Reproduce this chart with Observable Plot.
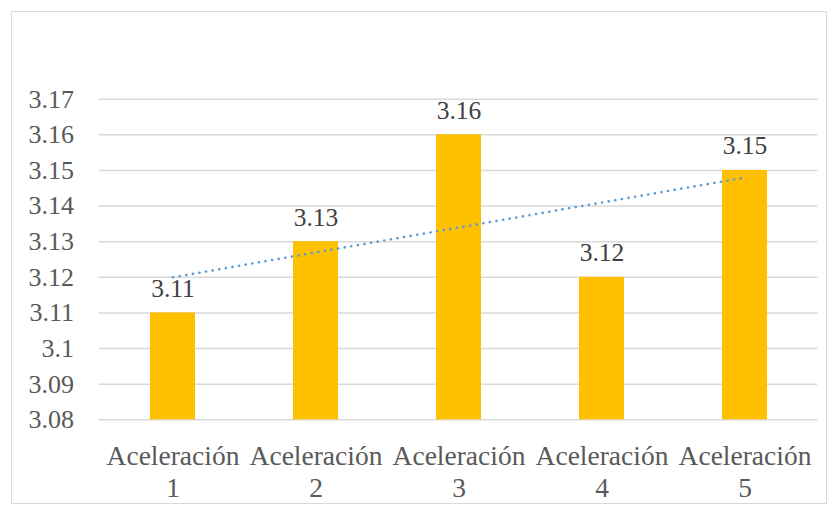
<!DOCTYPE html>
<html>
<head>
<meta charset="utf-8">
<script src="https://cdn.jsdelivr.net/npm/d3@7"></script>
<script src="https://cdn.jsdelivr.net/npm/@observablehq/plot@0.6"></script>
<style>
  html, body { margin: 0; padding: 0; background: #fff; }
  #wrap { position: relative; width: 830px; height: 508px; }
  #border {
    position: absolute; left: 11px; top: 11px; width: 816px; height: 493px;
    border: 1.5px solid #d9d9d9; box-sizing: border-box; pointer-events: none;
  }
  #chart { position: absolute; left: 0; top: 0; }
</style>
</head>
<body>
<div id="wrap">
  <div id="chart"></div>
  <div id="border"></div>
</div>
<script>
// Categories and measured values
const categories = ["Aceleración 1", "Aceleración 2", "Aceleración 3", "Aceleración 4", "Aceleración 5"];
const values = [3.11, 3.13, 3.16, 3.12, 3.15];

// Value axis range and ticks
const yMin = 3.08;
const yMax = 3.17;
const yTicks = [3.08, 3.09, 3.10, 3.11, 3.12, 3.13, 3.14, 3.15, 3.16, 3.17];

const data = categories.map((c, i) => ({category: c, value: values[i]}));

// Linear trend (least squares over category index 1..n)
const xs = values.map((_, i) => i + 1);
const mx = d3.mean(xs), my = d3.mean(values);
const slope = d3.sum(xs, (x, i) => (x - mx) * (values[i] - my)) / d3.sum(xs, x => (x - mx) ** 2);
const intercept = my - slope * mx;
const trend = [0, categories.length - 1].map(i => ({category: categories[i], value: intercept + slope * (i + 1)}));

const font = "Liberation Serif";

const chart = Plot.plot({
  width: 830,
  height: 508,
  marginLeft: 98.6,
  marginRight: 12.6,
  marginTop: 98.7,
  marginBottom: 88.7,
  style: {fontFamily: font, fontSize: "26px", background: "transparent", color: "#595959"},
  x: {domain: categories, paddingInner: 0.6875, paddingOuter: 0.34375, align: 0.5},
  y: {domain: [yMin, yMax]},
  marks: [
    Plot.ruleY(yTicks, {stroke: "#d9d9d9", strokeWidth: 1.4}),
    Plot.axisY({
      ticks: yTicks, tickSize: 0, tickPadding: 25, label: null,
      tickFormat: d => String(+d.toFixed(2)),
      fill: "#595959", fontSize: 26, fontFamily: font
    }),
    Plot.axisX({
      tickSize: 0, tickPadding: 22, label: null,
      tickFormat: d => d.replace(" ", "\n"),
      lineHeight: 1.18, fill: "#595959", fontSize: 27.5, fontFamily: font
    }),
    Plot.barY(data, {x: "category", y1: yMin, y2: "value", fill: "#FFC000"}),
    Plot.text(data, {
      x: "category", y: "value", text: d => String(d.value),
      lineAnchor: "bottom", dy: -16, fill: "#404040", fontSize: 25.5, fontFamily: font
    }),
    Plot.line(trend, {
      x: "category", y: "value", stroke: "#5B9BD5", strokeWidth: 2.6,
      strokeDasharray: "0.1 6.6", strokeLinecap: "round"
    })
  ]
});

document.getElementById("chart").appendChild(chart);
</script>
</body>
</html>
